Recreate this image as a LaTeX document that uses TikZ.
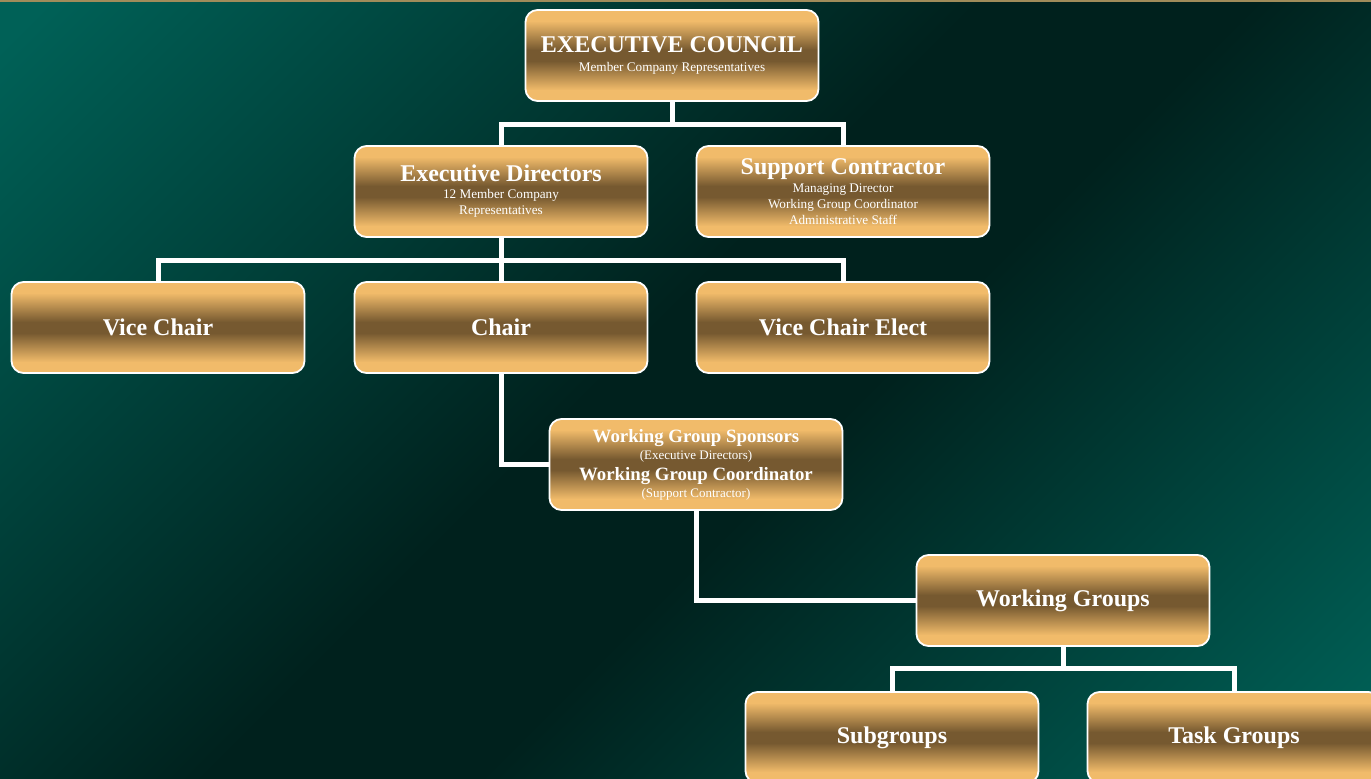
\documentclass[tikz,border=0pt]{standalone}
\usepackage{fontspec}
\setmainfont{Liberation Serif}
\definecolor{goldl}{RGB}{241,187,106}
\definecolor{goldd}{RGB}{118,89,48}
\definecolor{tealc}{RGB}{0,97,87}
\definecolor{darkc}{RGB}{0,33,29}
\definecolor{rimc}{RGB}{160,140,90}
\pgfdeclareverticalshading{goldbar}{100bp}{color(0bp)=(goldl); color(25bp)=(goldl); color(31bp)=(goldl); color(47bp)=(goldd); color(53bp)=(goldd); color(69bp)=(goldl); color(75bp)=(goldl); color(100bp)=(goldl)}
\pgfdeclareverticalshading{bgdiag}{100bp}{color(0bp)=(tealc); color(16bp)=(tealc); color(44bp)=(darkc); color(53bp)=(darkc); color(84bp)=(tealc); color(100bp)=(tealc)}
\newcommand{\boxhead}{\fontsize{24}{26}\selectfont\bfseries}
\newcommand{\boxnote}{\fontsize{13.2}{16}\selectfont}
\newcommand{\boxmid}{\fontsize{18.8}{20}\selectfont\bfseries}
\newcommand{\boxtiny}{\fontsize{13}{18}\selectfont}
\tikzset{
    box/.style={shade, shading=goldbar, draw=white, line width=1.8pt, rounded corners=12pt,
        minimum width=293pt, minimum height=91pt, inner sep=0pt, text=white, align=center,
        font=\fontsize{13.2}{16}\selectfont},
    link/.style={draw=white, line width=5pt}
}

\begin{document}
\begin{tikzpicture}[x=1pt, y=-1pt]
        \clip (0, 0) rectangle (1371, 779);
        \shade[shading=bgdiag, shading angle=45] (0, 0) rectangle (1371, 779);
        \fill[rimc] (0, 0) rectangle (1371, 2);

        \draw (672, 55.5) node(ec)[box]{{\boxhead EXECUTIVE COUNCIL}\\[3pt]{\boxnote Member Company Representatives}};
        \draw (501, 191.5) node(ed)[box]{{\boxhead Executive Directors}\\[1pt]{\boxnote 12 Member Company}\\{\boxnote Representatives}};
        \draw (843, 191.5) node(sc)[box]{{\boxhead Support Contractor}\\[2pt]{\boxnote Managing Director}\\{\boxnote Working Group Coordinator}\\{\boxnote Administrative Staff}};
        \draw (158, 327.5) node(vc)[box]{\boxhead Vice Chair};
        \draw (501, 327.5) node(chair)[box]{\boxhead Chair};
        \draw (843, 327.5) node(vce)[box]{\boxhead Vice Chair Elect};
        \draw (696, 464.5) node(wgs)[box, font=\fontsize{13}{18}\selectfont]{{\boxmid Working Group Sponsors}\\[-1pt]{\boxtiny (Executive Directors)}\\[3pt]{\boxmid Working Group Coordinator}\\[-1pt]{\boxtiny (Support Contractor)}};
        \draw (1063, 600.5) node(wg)[box]{\boxhead Working Groups};
        \draw (892, 737.5) node(sub)[box]{\boxhead Subgroups};
        \draw (1234, 737.5) node(task)[box]{\boxhead Task Groups};

        % council to directors and contractor
        \draw[link] (ec.south) -- ++(0, 23) -| (ed.north);
        \draw[link] (ec.south) -- ++(0, 23) -| (sc.north);

        % directors to the chairs
        \draw[link] (ed.south) -- (chair.north);
        \draw[link] (ed.south) -- ++(0, 23) -| (vc.north);
        \draw[link] (ed.south) -- ++(0, 23) -| (vce.north);

        \draw[link] (chair.south) |- (wgs.west);
        \draw[link] (wgs.south) |- (wg.west);

        % working groups to sub and task groups
        \draw[link] (wg.south) -- ++(0, 22) -| (sub.north);
        \draw[link] (wg.south) -- ++(0, 22) -| (task.north);
    \end{tikzpicture}
\end{document}
